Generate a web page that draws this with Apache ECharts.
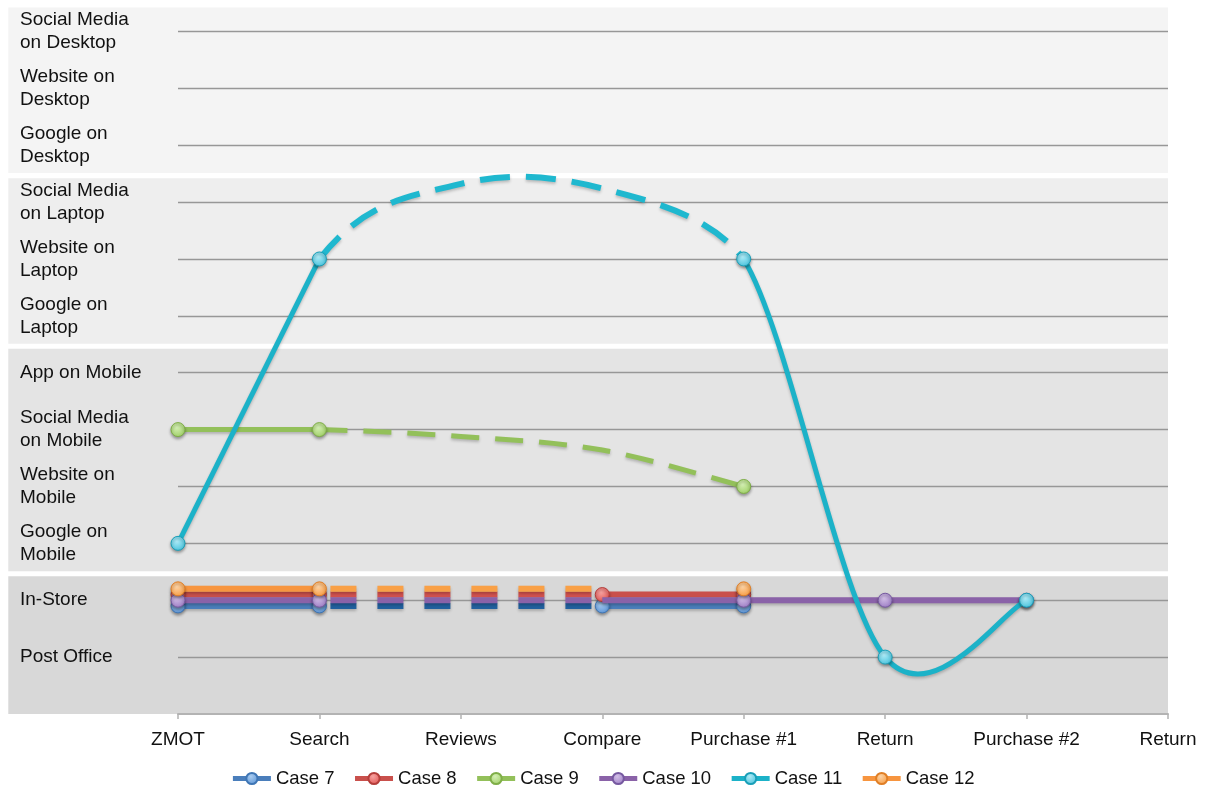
<!DOCTYPE html>
<html><head><meta charset="utf-8">
<script src="https://cdn.jsdelivr.net/npm/echarts@6/dist/echarts.min.js"></script>
<style>html,body{margin:0;padding:0;background:#fff}#chart{width:1205px;height:790px}</style>
</head><body><div id="chart"></div>
<script>
// ---- data ----
const stages = ['ZMOT', 'Search', 'Reviews', 'Compare', 'Purchase #1', 'Return', 'Purchase #2', 'Return'];
const channels = ['Post Office', 'In-Store', 'Google on Mobile', 'Website on Mobile', 'Social Media on Mobile',
  'App on Mobile', 'Google on Laptop', 'Website on Laptop', 'Social Media on Laptop',
  'Google on Desktop', 'Website on Desktop', 'Social Media on Desktop'];
// channel index ranges for device groups: Desktop, Laptop, Mobile, Store
const deviceGroups = [[9, 11], [6, 8], [2, 5], [0, 1]];
const caseNames = ['Case 7', 'Case 8', 'Case 9', 'Case 10', 'Case 11', 'Case 12'];
// channel value per stage (small offsets keep overlapping in-store journeys visible)
const case7 = [0.9, 0.9, 0.9, 0.9, 0.9, null, null, null];
const case8 = [1.1, 1.1, 1.1, 1.1, 1.1, null, null, null];
const case9 = [4, 4, 3.88, 3.64, 3, null, null, null];
const case10 = [1, 1, 1, 1, 1, 1, 1, null];
const case11 = [2, 7, 8.32, 8.24, 7, 0, 1, null];
const case12 = [1.2, 1.2, 1.2, 1.2, 1.2, null, null, null];
// segments [fromStage, toStage, dashed]
const case7Segments = [[0, 1, false], [1, 3, true], [3, 4, false]];
const case8Segments = [[0, 1, false], [1, 3, true], [3, 4, false]];
const case9Segments = [[0, 1, false], [1, 4, true]];
const case10Segments = [[0, 1, false], [1, 3, true], [3, 6, false]];
const case11Segments = [[0, 1, false], [1, 4, true], [4, 6, false]];
const case12Segments = [[0, 1, false], [1, 3, true]];
// stages with a marker
const case7Markers = [0, 1, 3, 4];
const case8Markers = [0, 1, 3, 4];
const case9Markers = [0, 1, 4];
const case10Markers = [0, 1, 4, 5, 6];
const case11Markers = [0, 1, 4, 5, 6];
const case12Markers = [0, 1, 4];

// ---- styles ----
const FONT = "'Liberation Sans', Arial, Helvetica, sans-serif";
const bandColors = ['#f4f4f4', '#eeeeee', '#e4e4e4', '#d8d8d8'];
const styles = [
  {line: '#4a7ebb', dash: '#22609e', light: '#a9ccf0', base: '#5a93d6', border: '#3f76b5', width: 6, dashWidth: 6, dashPattern: [26, 21], dashOffset: 36},
  {line: '#c9504c', dash: '#d2524f', light: '#f6a3a1', base: '#e0504e', border: '#b43e3b', width: 6, dashWidth: 6, dashPattern: [26, 21], dashOffset: 36},
  {line: '#93c05a', dash: '#93c05a', light: '#d4efb4', base: '#9dcf63', border: '#7fae48', width: 5, dashWidth: 5, dashPattern: [28, 16], dashOffset: 0},
  {line: '#8a62a8', dash: '#8a62a8', light: '#d2bfe6', base: '#9b7bc4', border: '#7659a0', width: 6, dashWidth: 6, dashPattern: [26, 21], dashOffset: 36},
  {line: '#1cb2c8', dash: '#1fb8cf', light: '#aeeaf6', base: '#45c2dc', border: '#1a9fb8', width: 5, dashWidth: 6, dashPattern: [30, 16], dashOffset: 0},
  {line: '#f7953f', dash: '#f9a046', light: '#fcd3a6', base: '#f89a3e', border: '#e07f26', width: 6, dashWidth: 6, dashPattern: [26, 21], dashOffset: 36}
];
const caseValues = [case7, case8, case9, case10, case11, case12];
const caseSegments = [case7Segments, case8Segments, case9Segments, case10Segments, case11Segments, case12Segments];
const caseMarkers = [case7Markers, case8Markers, case9Markers, case10Markers, case11Markers, case12Markers];

const Y_MIN = -1, Y_MAX = 11.5, X_BAND_LEFT = -1.2, X_MAX = 7;
const lineShadow = {shadowBlur: 3, shadowColor: 'rgba(0,0,0,0.22)', shadowOffsetY: 2};

// smooth path through a case's points (Catmull-Rom style, like the spreadsheet's smoothed lines);
// the point after the segment end only pulls half as much, as in the original drawing
function smoothPath(api, vals, from, to) {
  const idx = [];
  vals.forEach((v, i) => { if (v !== null) idx.push(i); });
  const P = i => api.coord([i, vals[i]]);
  let d = '';
  for (let i = from; i < to; i++) {
    const k = idx.indexOf(i);
    const p0 = P(idx[Math.max(k - 1, 0)]), p1 = P(i), p2 = P(idx[k + 1]);
    let p3 = P(idx[Math.min(k + 2, idx.length - 1)]);
    if (idx[k + 1] === to) p3 = [p2[0] + (p3[0] - p2[0]) * 0.5, p2[1] + (p3[1] - p2[1]) * 0.5];
    const c1 = [p1[0] + (p2[0] - p0[0]) / 6, p1[1] + (p2[1] - p0[1]) / 6];
    const c2 = [p2[0] - (p3[0] - p1[0]) / 6, p2[1] - (p3[1] - p1[1]) / 6];
    if (i === from) d += 'M' + p1[0] + ' ' + p1[1];
    d += ' C' + c1[0] + ' ' + c1[1] + ' ' + c2[0] + ' ' + c2[1] + ' ' + p2[0] + ' ' + p2[1];
  }
  return d;
}

const series = [];
// background device bands
series.push({
  type: 'custom', silent: true, z: -10, clip: false,
  data: deviceGroups.map((g, i) => [g[0], g[1], i]),
  renderItem: (params, api) => {
    const lo = api.value(0), hi = api.value(1), idx = api.value(2);
    const bottom = lo === 0 ? Y_MIN : lo - 0.49;
    const top = hi + 0.42;
    const p1 = api.coord([X_BAND_LEFT, top]);
    const p2 = api.coord([X_MAX, bottom]);
    return {type: 'rect', shape: {x: p1[0], y: p1[1], width: p2[0] - p1[0], height: p2[1] - p1[1]},
      style: {fill: bandColors[idx]}};
  }
});

caseNames.forEach((name, ci) => {
  const st = styles[ci];
  const vals = caseValues[ci];
  const marks = caseMarkers[ci];
  const markerStyle = {
    color: {type: 'radial', x: 0.42, y: 0.35, r: 0.7,
      colorStops: [{offset: 0, color: st.light}, {offset: 1, color: st.base}]},
    borderColor: st.border, borderWidth: 1,
    shadowBlur: 3, shadowColor: 'rgba(0,0,0,0.35)', shadowOffsetY: 2
  };
  caseSegments[ci].forEach(([from, to, dashed]) => {
    const segVals = vals.slice(from, to + 1);
    const curved = segVals.length > 2 && segVals.some(v => v !== segVals[0]);
    const color = dashed ? st.dash : st.line;
    const width = dashed ? st.dashWidth : st.width;
    if (curved) {
      series.push({
        type: 'custom', name, silent: true, clip: false, z: 2 + ci,
        data: [[from, vals[from]]],
        renderItem: (params, api) => ({
          type: 'path',
          shape: {pathData: smoothPath(api, vals, from, to)},
          style: Object.assign({fill: 'none', stroke: color, lineWidth: width,
            lineDash: dashed ? st.dashPattern : null, lineDashOffset: dashed ? st.dashOffset : 0,
            lineCap: 'butt'}, lineShadow)
        })
      });
    } else {
      const data = [];
      for (let i = from; i <= to; i++) data.push({value: [i, vals[i]], symbol: 'none'});
      series.push({
        type: 'line', name, data, smooth: false, z: 2 + ci,
        symbol: 'circle', symbolSize: 14, showAllSymbol: true,
        lineStyle: Object.assign({color, width, type: dashed ? st.dashPattern : 'solid',
          dashOffset: dashed ? st.dashOffset : 0, cap: 'butt'}, lineShadow),
        itemStyle: markerStyle,
        emphasis: {disabled: true}
      });
    }
  });
  // markers
  series.push({
    type: 'line', name, z: 2 + ci,
    data: marks.map(i => [i, vals[i]]),
    symbol: 'circle', symbolSize: 14, showAllSymbol: true,
    lineStyle: {width: 0, opacity: 0},
    itemStyle: markerStyle,
    emphasis: {disabled: true}
  });
});

const chart = echarts.init(document.getElementById('chart'), null, {renderer: 'canvas'});
chart.setOption({
  animation: false,
  backgroundColor: '#ffffff',
  textStyle: {fontFamily: FONT},
  grid: {left: 178, right: 37, top: 3, bottom: 76, containLabel: false},
  legend: {
    data: caseNames, left: 'center', top: 764, itemWidth: 38, itemHeight: 14, itemGap: 18,
    lineStyle: {width: 5},
    textStyle: {fontFamily: FONT, fontSize: 18.5, color: '#111'}
  },
  xAxis: {
    type: 'value', min: 0, max: X_MAX, interval: 1,
    axisLine: {show: true, onZero: false, lineStyle: {color: '#b3b3b3', width: 2}},
    axisTick: {show: true, length: 5, lineStyle: {color: '#b3b3b3', width: 1.5}},
    splitLine: {show: false},
    axisLabel: {fontFamily: FONT, fontSize: 19, color: '#111', margin: 16,
      formatter: v => (Number.isInteger(v) && stages[v] !== undefined) ? stages[v] : ''}
  },
  yAxis: {
    type: 'value', min: Y_MIN, max: Y_MAX, interval: 1,
    axisLine: {show: false, onZero: false}, axisTick: {show: false},
    splitLine: {show: true, showMinLine: false, showMaxLine: false, lineStyle: {color: '#979797', width: 1.3}},
    axisLabel: {fontFamily: FONT, fontSize: 19, lineHeight: 23, color: '#111', align: 'left', margin: 158,
      width: 128, overflow: 'break',
      formatter: v => (Number.isInteger(v) && v >= 0 && v < channels.length) ? channels[v] : ''}
  },
  series
});
</script></body></html>
